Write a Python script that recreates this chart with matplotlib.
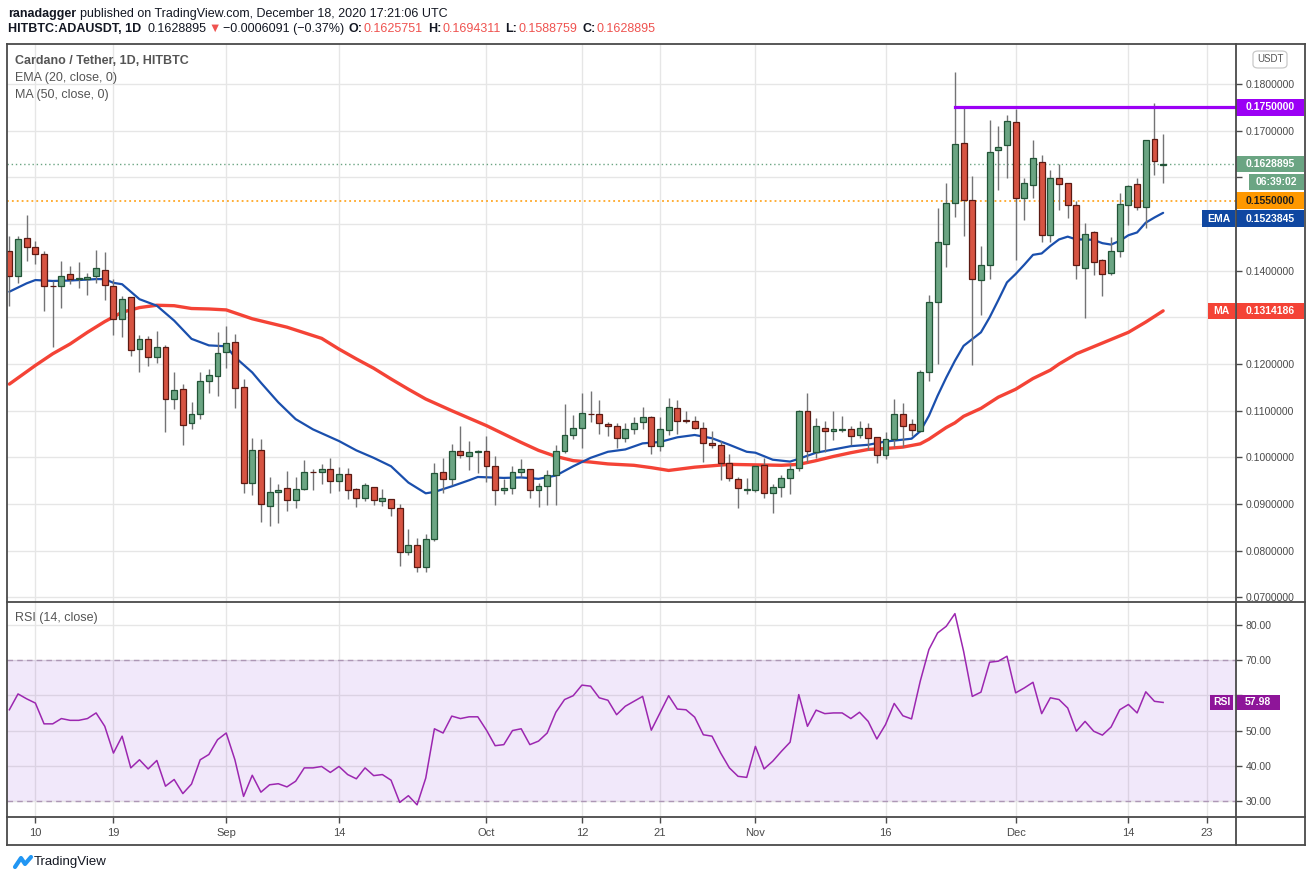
import matplotlib
matplotlib.use("Agg")
import matplotlib.pyplot as plt
import matplotlib.transforms as mtransforms
from matplotlib.patches import Rectangle, FancyBboxPatch
from matplotlib.lines import Line2D
import numpy as np
import pandas as pd

# ---- data (ADA/USDT daily, HitBTC) ----
start = pd.Timestamp("2020-08-07")
dates = pd.date_range(start, periods=134, freq="D")

opens = [0.1442, 0.1389, 0.1470, 0.1451, 0.1436, 0.1368, 0.1367, 0.1394, 0.1382, 0.1383,
         0.1389, 0.1402, 0.1368, 0.1296, 0.1343, 0.1232, 0.1253, 0.1215, 0.1236, 0.1126,
         0.1147, 0.1074, 0.1094, 0.1164, 0.1175, 0.1226, 0.1247, 0.1150, 0.0946, 0.1016,
         0.0896, 0.0926, 0.0935, 0.0909, 0.0933, 0.0969, 0.0968, 0.0976, 0.0950, 0.0965,
         0.0933, 0.0913, 0.0937, 0.0907, 0.0911, 0.0892, 0.0797, 0.0812, 0.0765, 0.0825,
         0.0968, 0.0953, 0.1013, 0.1002, 0.1011, 0.1013, 0.0981, 0.0930, 0.0934, 0.0968,
         0.0975, 0.0930, 0.0938, 0.0962, 0.1013, 0.1047, 0.1064, 0.1094, 0.1094, 0.1071,
         0.1067, 0.1041, 0.1060, 0.1075, 0.1086, 0.1024, 0.1058, 0.1105, 0.1081, 0.1079,
         0.1064, 0.1030, 0.1026, 0.0988, 0.0953, 0.0930, 0.0930, 0.0983, 0.0923, 0.0936,
         0.0956, 0.0977, 0.1100, 0.1011, 0.1064, 0.1056, 0.1058, 0.1060, 0.1047, 0.1062,
         0.1043, 0.1005, 0.1039, 0.1094, 0.1071, 0.1056, 0.1182, 0.1334, 0.1458, 0.1546,
         0.1674, 0.1551, 0.1381, 0.1413, 0.1659, 0.1670, 0.1719, 0.1556, 0.1584, 0.1633,
         0.1477, 0.1599, 0.1588, 0.1541, 0.1405, 0.1482, 0.1422, 0.1396, 0.1443, 0.1541,
         0.1586, 0.1537, 0.1682, 0.1626]
highs = [0.1474, 0.1474, 0.1520, 0.1464, 0.1443, 0.1378, 0.1420, 0.1411, 0.1418, 0.1396,
         0.1445, 0.1440, 0.1382, 0.1345, 0.1344, 0.1263, 0.1261, 0.1271, 0.1240, 0.1184,
         0.1157, 0.1118, 0.1182, 0.1189, 0.1269, 0.1282, 0.1265, 0.1169, 0.1041, 0.1039,
         0.0959, 0.0943, 0.0970, 0.0957, 0.0994, 0.0976, 0.0985, 0.0998, 0.0979, 0.0978,
         0.0934, 0.0946, 0.0937, 0.0933, 0.0911, 0.0901, 0.0847, 0.0827, 0.0836, 0.0987,
         0.0999, 0.1029, 0.1067, 0.1035, 0.1016, 0.1046, 0.1002, 0.0954, 0.0981, 0.0997,
         0.0975, 0.0946, 0.0974, 0.1027, 0.1114, 0.1091, 0.1138, 0.1142, 0.1123, 0.1075,
         0.1074, 0.1073, 0.1086, 0.1109, 0.1088, 0.1086, 0.1127, 0.1123, 0.1099, 0.1088,
         0.1075, 0.1056, 0.1035, 0.1007, 0.0958, 0.0956, 0.0983, 0.0998, 0.0943, 0.0962,
         0.0985, 0.1101, 0.1138, 0.1084, 0.1079, 0.1100, 0.1088, 0.1067, 0.1079, 0.1073,
         0.1043, 0.1054, 0.1125, 0.1116, 0.1082, 0.1188, 0.1348, 0.1535, 0.1589, 0.1826,
         0.1749, 0.1604, 0.1452, 0.1724, 0.1711, 0.1734, 0.1747, 0.1598, 0.1681, 0.1647,
         0.1616, 0.1628, 0.1588, 0.1549, 0.1503, 0.1486, 0.1426, 0.1473, 0.1567, 0.1584,
         0.1599, 0.1681, 0.1759, 0.1694]
lows = [0.1325, 0.1374, 0.1421, 0.1414, 0.1314, 0.1236, 0.1321, 0.1371, 0.1363, 0.1348,
        0.1374, 0.1338, 0.1263, 0.1259, 0.1217, 0.1183, 0.1195, 0.1202, 0.1055, 0.1104,
        0.1026, 0.1061, 0.1082, 0.1138, 0.1131, 0.1191, 0.1106, 0.0923, 0.0919, 0.0862,
        0.0854, 0.0859, 0.0885, 0.0891, 0.0930, 0.0931, 0.0943, 0.0924, 0.0928, 0.0910,
        0.0894, 0.0906, 0.0897, 0.0896, 0.0875, 0.0768, 0.0790, 0.0754, 0.0754, 0.0820,
        0.0923, 0.0941, 0.0998, 0.0974, 0.0967, 0.0948, 0.0897, 0.0921, 0.0921, 0.0959,
        0.0912, 0.0893, 0.0897, 0.0899, 0.1010, 0.1040, 0.1021, 0.1075, 0.1051, 0.1045,
        0.1021, 0.1032, 0.1051, 0.1060, 0.1007, 0.1013, 0.1049, 0.1051, 0.1073, 0.1060,
        0.0990, 0.1020, 0.0951, 0.0949, 0.0891, 0.0921, 0.0925, 0.0914, 0.0880, 0.0916,
        0.0921, 0.0970, 0.0990, 0.0998, 0.1011, 0.1037, 0.1054, 0.1026, 0.1041, 0.1015,
        0.0988, 0.0996, 0.1022, 0.1022, 0.1045, 0.1055, 0.1163, 0.1201, 0.1408, 0.1515,
        0.1474, 0.1199, 0.1306, 0.1383, 0.1574, 0.1599, 0.1424, 0.1509, 0.1556, 0.1462,
        0.1462, 0.1531, 0.1513, 0.1383, 0.1299, 0.1391, 0.1346, 0.1391, 0.1430, 0.1497,
        0.1531, 0.1492, 0.1605, 0.1589]
closes = [0.1389, 0.1468, 0.1451, 0.1436, 0.1368, 0.1367, 0.1389, 0.1383, 0.1384, 0.1387,
          0.1406, 0.1370, 0.1296, 0.1340, 0.1230, 0.1253, 0.1215, 0.1236, 0.1126, 0.1145,
          0.1070, 0.1094, 0.1164, 0.1177, 0.1223, 0.1245, 0.1148, 0.0946, 0.1016, 0.0900,
          0.0926, 0.0930, 0.0909, 0.0933, 0.0969, 0.0968, 0.0976, 0.0950, 0.0965, 0.0930,
          0.0913, 0.0941, 0.0909, 0.0913, 0.0892, 0.0797, 0.0812, 0.0765, 0.0825, 0.0967,
          0.0953, 0.1013, 0.1005, 0.1011, 0.1013, 0.0981, 0.0930, 0.0934, 0.0968, 0.0975,
          0.0930, 0.0938, 0.0962, 0.1013, 0.1049, 0.1064, 0.1096, 0.1092, 0.1073, 0.1067,
          0.1041, 0.1060, 0.1073, 0.1086, 0.1024, 0.1060, 0.1107, 0.1079, 0.1079, 0.1064,
          0.1030, 0.1026, 0.0988, 0.0956, 0.0934, 0.0931, 0.0981, 0.0923, 0.0936, 0.0956,
          0.0975, 0.1100, 0.1013, 0.1067, 0.1056, 0.1060, 0.1060, 0.1045, 0.1064, 0.1041,
          0.1005, 0.1039, 0.1094, 0.1067, 0.1059, 0.1184, 0.1332, 0.1462, 0.1546, 0.1672,
          0.1551, 0.1383, 0.1413, 0.1655, 0.1665, 0.1721, 0.1556, 0.1588, 0.1642, 0.1477,
          0.1599, 0.1586, 0.1541, 0.1413, 0.1479, 0.1418, 0.1394, 0.1443, 0.1544, 0.1582,
          0.1537, 0.1680, 0.1635, 0.1629]

ema_days = ["08-07", "08-09", "08-10", "08-12", "08-14", "08-17", "08-18", "08-19", "08-20",
            "08-22", "08-24", "08-26", "08-28", "08-30", "09-01", "09-02", "09-04", "09-05",
            "09-07", "09-09", "09-11", "09-14", "09-16", "09-18", "09-20", "09-22", "09-24",
            "09-25", "09-27", "09-29", "09-30", "10-03", "10-05", "10-07", "10-09", "10-11",
            "10-13", "10-15", "10-17", "10-19", "10-21", "10-23", "10-25", "10-27", "10-29",
            "10-31", "11-01", "11-03", "11-05", "11-06", "11-08", "11-10", "11-12", "11-14",
            "11-16", "11-18", "11-19", "11-20", "11-21", "11-22", "11-23", "11-24", "11-25",
            "11-27", "11-28", "11-29", "11-30", "12-01", "12-02", "12-03", "12-04", "12-05",
            "12-06", "12-07", "12-08", "12-09", "12-10", "12-11", "12-12", "12-13", "12-14",
            "12-15", "12-16", "12-17", "12-18"]
ema_vals = [0.1355, 0.1373, 0.1380, 0.1378, 0.1379, 0.1382, 0.1382, 0.1374, 0.1371,
            0.1339, 0.1325, 0.1293, 0.1254, 0.1240, 0.1238, 0.1215, 0.1182, 0.1160,
            0.1118, 0.1082, 0.1060, 0.1035, 0.1015, 0.0999, 0.0981, 0.0946, 0.0923,
            0.0926, 0.0938, 0.0951, 0.0958, 0.0956, 0.0957, 0.0954, 0.0961, 0.0981,
            0.0999, 0.1012, 0.1017, 0.1030, 0.1033, 0.1043, 0.1048, 0.1041, 0.1027,
            0.1012, 0.1010, 0.0995, 0.0991, 0.0997, 0.1010, 0.1017, 0.1024, 0.1027,
            0.1034, 0.1038, 0.1040, 0.1056, 0.1089, 0.1132, 0.1171, 0.1207, 0.1239,
            0.1268, 0.1300, 0.1337, 0.1375, 0.1393, 0.1413, 0.1434, 0.1437, 0.1453,
            0.1467, 0.1473, 0.1467, 0.1467, 0.1466, 0.1459, 0.1456, 0.1464, 0.1476,
            0.1482, 0.1503, 0.1514, 0.1524]

ma_days = ["08-07", "08-10", "08-12", "08-14", "08-16", "08-18", "08-20", "08-22", "08-24",
           "08-26", "08-28", "08-30", "09-01", "09-04", "09-08", "09-12", "09-14", "09-16",
           "09-18", "09-20", "09-22", "09-24", "09-27", "09-29", "10-01", "10-03", "10-05",
           "10-07", "10-09", "10-11", "10-13", "10-15", "10-18", "10-20", "10-22", "10-25",
           "10-29", "11-01", "11-04", "11-06", "11-08", "11-10", "11-12", "11-14", "11-16",
           "11-18", "11-20", "11-21", "11-23", "11-24", "11-25", "11-27", "11-29", "12-01",
           "12-03", "12-05", "12-06", "12-08", "12-11", "12-14", "12-15", "12-16", "12-17",
           "12-18"]
ma_vals = [0.1157, 0.1197, 0.1222, 0.1243, 0.1268, 0.1291, 0.1311, 0.1321, 0.1326,
           0.1325, 0.1319, 0.1318, 0.1316, 0.1297, 0.1279, 0.1255, 0.1232, 0.1211,
           0.1191, 0.1168, 0.1146, 0.1125, 0.1100, 0.1084, 0.1068, 0.1050, 0.1032,
           0.1015, 0.1002, 0.0993, 0.0990, 0.0986, 0.0983, 0.0978, 0.0972, 0.0979,
           0.0985, 0.0984, 0.0983, 0.0985, 0.0993, 0.1002, 0.1010, 0.1017, 0.1019,
           0.1022, 0.1029, 0.1039, 0.1064, 0.1074, 0.1088, 0.1105, 0.1129, 0.1146,
           0.1169, 0.1187, 0.1200, 0.1222, 0.1245, 0.1268, 0.1279, 0.1290, 0.1302,
           0.1314]

rsi_vals = [55.9, 60.4, 59.0, 57.8, 51.9, 51.9, 53.4, 52.9, 52.9, 53.4, 55.0, 51.2, 43.6,
            48.4, 39.4, 41.7, 39.1, 41.5, 34.2, 36.1, 32.1, 34.8, 41.7, 43.2, 47.4,
            49.3, 41.7, 31.3, 37.3, 32.5, 34.6, 34.9, 34.0, 35.6, 39.4, 39.4, 39.8, 38.1,
            39.8, 37.5, 36.3, 39.4, 37.2, 37.5, 35.9, 29.6, 31.5, 28.9, 36.5, 50.5, 49.3,
            54.1, 53.4, 53.9, 53.9,
            50.1, 45.7, 46.0, 50.0, 50.5, 46.0, 47.0, 49.3, 55.2, 58.8, 59.9, 62.9, 62.6,
            59.3, 58.6, 54.5, 56.9, 58.3, 59.7, 50.1, 55.0, 59.9, 56.1, 55.9, 53.8, 48.8,
            48.4, 43.6, 39.4, 37.0, 36.7,
            45.5, 39.1, 41.3, 44.1, 46.7, 60.2, 51.2, 55.8, 54.8, 55.0, 55.0, 53.4, 55.2,
            52.6, 47.6, 51.7, 57.7, 54.2, 53.3, 64.0, 73.0, 77.7, 79.6, 83.2, 72.5, 59.7,
            60.9, 69.4, 69.7, 71.1,
            60.7, 62.1, 63.7, 54.8, 59.3, 58.8, 56.4, 49.8, 52.6, 49.8, 48.7, 51.0, 55.9,
            57.4, 55.0, 61.0, 58.3, 57.98]

tick_dates = ["2020-08-10", "2020-08-19", "2020-09-01", "2020-09-14", "2020-10-01",
              "2020-10-12", "2020-10-21", "2020-11-01", "2020-11-16", "2020-12-01",
              "2020-12-14", "2020-12-23"]
tick_labels = ["10", "19", "Sep", "14", "Oct", "12", "21", "Nov", "16", "Dec", "14", "23"]

price_ticks = [0.07, 0.08, 0.09, 0.10, 0.11, 0.12, 0.13, 0.14, 0.15, 0.16, 0.17, 0.18]
hidden_price_ticks = [0.13, 0.15, 0.16]   # covered by the value tags in the original
rsi_ticks = [30, 40, 50, 60, 70, 80]
hidden_rsi_ticks = [60]

resistance = 0.175
resistance_from = "2020-11-24"
support = 0.155
last_price = 0.1628895
ema_last = 0.1523845
ma_last = 0.1314186
rsi_last = 57.98
countdown = "06:39:02"

# ---- styling ----
UP, UP_EDGE = "#6ba583", "#225437"
DN, DN_EDGE = "#d75442", "#5b1a13"
WICK = "#737375"
EMA_C, MA_C = "#1a4fad", "#f44336"
PURPLE, ORANGE = "#9b00f5", "#ff9800"
RSI_C = "#9c27b0"
GRID = "#e6e6e6"
FRAME = "#4a4a4a"
TXT = "#131722"
LBL = "#4a4a4a"

plt.rcParams["font.family"] = ["Liberation Sans", "DejaVu Sans"]

W, H = 1311, 881
fig = plt.figure(figsize=(W / 100, H / 100), dpi=100)


def fx(px):
    return px / W


def fy(py):
    return 1 - py / H


L, R = 7, 1236
ax = fig.add_axes([fx(L), fy(602), fx(R) - fx(L), (602 - 44) / H])
ax_rsi = fig.add_axes([fx(L), fy(817), fx(R) - fx(L), (817 - 602) / H], sharex=ax)

YMIN, YMAX = 0.06901, 0.18858
RMIN, RMAX = 25.45, 86.5
XMIN, XMAX = -0.27, 141.4


def day(s):
    return (pd.Timestamp(s) - start).days


def day_md(s):
    return day("2020-" + s)


def skip_formatter(fmt, hidden):
    def f(v, pos):
        if any(abs(v - h) < 1e-6 for h in hidden):
            return ""
        return fmt % v
    return plt.FuncFormatter(f)


x = np.array([(d - start).days for d in dates])
o, hi, lo, c = map(np.array, (opens, highs, lows, closes))
up = c >= o

# candles
ax.vlines(x, lo, hi, color=WICK, lw=1, zorder=3)
body_lo = np.minimum(o, c)
body_h = np.maximum(np.abs(c - o), 0.00012)
ax.bar(x[up], body_h[up], bottom=body_lo[up], width=0.68, color=UP,
       edgecolor=UP_EDGE, lw=0.9, zorder=4)
ax.bar(x[~up], body_h[~up], bottom=body_lo[~up], width=0.68, color=DN,
       edgecolor=DN_EDGE, lw=0.9, zorder=4)

# moving averages
ax.plot([day_md(d) for d in ema_days], ema_vals, color=EMA_C, lw=1.6, zorder=2.6,
        solid_capstyle="round")
ax.plot([day_md(d) for d in ma_days], ma_vals, color=MA_C, lw=2.4, zorder=2.5,
        solid_capstyle="round")

# horizontal levels
ax.plot([day(resistance_from), XMAX], [resistance, resistance], color=PURPLE, lw=2.3, zorder=5)
ax.axhline(last_price, color=UP, ls=(0, (1, 2)), lw=1, zorder=2)
ax.axhline(support, color=ORANGE, ls=(0, (1.2, 2)), lw=1.1, zorder=2)

ax.set_xlim(XMIN, XMAX)
ax.set_ylim(YMIN, YMAX)
ax.set_yticks(price_ticks)
ax.yaxis.set_major_formatter(skip_formatter("%.7f", hidden_price_ticks))
ax.yaxis.tick_right()
ax.tick_params(axis="y", length=4, width=1, color=FRAME, labelcolor=LBL,
               labelsize=7.5, pad=3)
ax.tick_params(axis="x", length=0, labelbottom=False)
ax.set_axisbelow(True)
ax.grid(True, color=GRID, lw=1)

# RSI panel
ax_rsi.axhspan(30, 70, color="#7e22d0", alpha=0.1, lw=0, zorder=1)
for lvl in (30, 70):
    ax_rsi.axhline(lvl, color="#ad97b5", ls=(0, (4, 3)), lw=1, zorder=2)
ax_rsi.plot(x, rsi_vals, color=RSI_C, lw=1.1, zorder=3)
ax_rsi.set_ylim(RMIN, RMAX)
ax_rsi.set_yticks(rsi_ticks)
ax_rsi.yaxis.set_major_formatter(skip_formatter("%.2f", hidden_rsi_ticks))
ax_rsi.yaxis.tick_right()
ax_rsi.tick_params(axis="y", length=4, width=1, color=FRAME, labelcolor=LBL,
                   labelsize=7.5, pad=3)
ax_rsi.set_xticks([day(d) for d in tick_dates])
ax_rsi.set_xticklabels(tick_labels)
ax_rsi.tick_params(axis="x", length=4, width=1, color=FRAME, labelcolor=LBL,
                   labelsize=8, pad=4)
ax_rsi.set_axisbelow(True)
ax_rsi.grid(True, color=GRID, lw=1)

for a in (ax, ax_rsi):
    for sp in a.spines.values():
        sp.set_visible(False)


# price-scale tags
def tag(axis, y, text, fc, tc, per_px, shift=0, x0=R, x1=1304, h=16.5, size=7.5):
    span = R - L
    tr = mtransforms.blended_transform_factory(axis.transAxes, axis.transData)
    tr = mtransforms.offset_copy(tr, fig=fig, x=0, y=-shift, units="dots")
    hh = h / per_px
    ax0 = (x0 - L) / span
    aw = (x1 - x0) / span
    axis.add_patch(Rectangle((ax0, y - hh / 2), aw, hh, transform=tr, fc=fc, ec="none",
                             clip_on=False, zorder=8))
    axis.text(ax0 + aw / 2, y, text, transform=tr, ha="center", va="center",
              color=tc, fontsize=size, fontweight="bold", clip_on=False, zorder=9)


ppx = (602 - 44) / (YMAX - YMIN)
rpx = (817 - 602) / (RMAX - RMIN)
tag(ax, resistance, "%.7f" % resistance, PURPLE, "white", ppx)
tag(ax, last_price, "%.7f" % last_price, UP, "white", ppx)
tag(ax, last_price, countdown, UP, "white", ppx, shift=18, x0=1249)
tag(ax, support, "%.7f" % support, ORANGE, "#1e1e1e", ppx)
tag(ax, ema_last, "%.7f" % ema_last, "#0f47a1", "white", ppx, shift=5.6)
tag(ax, ema_last, "EMA", "#0f47a1", "white", ppx, shift=5.6, x0=1202, x1=1235)
tag(ax, ma_last, "%.7f" % ma_last, MA_C, "white", ppx)
tag(ax, ma_last, "MA", MA_C, "white", ppx, x0=1208, x1=1235)
tag(ax_rsi, rsi_last, "%.2f" % rsi_last, "#8e1599", "white", rpx, x0=1236, x1=1280, h=15.5)
tag(ax_rsi, rsi_last, "RSI", "#8e1599", "white", rpx, x0=1210, x1=1233, h=15.5)

# panel legends
ax.text(8 / (R - L), 1 - (61 - 44) / (602 - 44), "Cardano / Tether, 1D, HITBTC",
        transform=ax.transAxes, color="#555555", fontsize=9, fontweight="bold", va="center")
ax.text(8 / (R - L), 1 - (78 - 44) / (602 - 44), "EMA (20, close, 0)",
        transform=ax.transAxes, color="#555555", fontsize=9, va="center")
ax.text(8 / (R - L), 1 - (95 - 44) / (602 - 44), "MA (50, close, 0)",
        transform=ax.transAxes, color="#555555", fontsize=9, va="center")
ax_rsi.text(8 / (R - L), 1 - (618 - 602) / (817 - 602), "RSI (14, close)",
            transform=ax_rsi.transAxes, color="#555555", fontsize=9, va="center")


# frame
def fline(x0, y0, x1, y1):
    fig.add_artist(Line2D([fx(x0), fx(x1)], [fy(y0), fy(y1)], color=FRAME, lw=1.3))


fline(7, 44, 1305, 44)
fline(7, 845, 1305, 845)
fline(7, 44, 7, 845)
fline(1305, 44, 1305, 845)
fline(7, 602, 1305, 602)
fline(7, 817, 1305, 817)
fline(1236, 44, 1236, 845)

# currency badge
fig.add_artist(FancyBboxPatch((fx(1253), fy(68)), fx(1287) - fx(1253), (68 - 51) / H,
                              boxstyle="round,pad=0,rounding_size=0.004",
                              fc="white", ec="#c9c9c9", lw=0.9, transform=fig.transFigure))
fig.text(fx(1270), fy(59.5), "USDT", ha="center", va="center", fontsize=7, color="#555555")

# header
renderer = fig.canvas.get_renderer()


def run_text(parts, x_px, y_px, size=9):
    xx = x_px
    for s, color, weight, gap in parts:
        t = fig.text(fx(xx), fy(y_px), s, color=color, fontsize=size, fontweight=weight,
                     ha="left", va="center")
        xx = t.get_window_extent(renderer).x1 + gap


RED = "#ef5350"
run_text([("ranadagger", TXT, "bold", 4),
          ("published on TradingView.com, December 18, 2020 17:21:06 UTC", TXT, "normal", 0)],
         8, 14)
run_text([("HITBTC:ADAUSDT, 1D", TXT, "bold", 6),
          ("%.7f" % last_price, TXT, "normal", 2),
          ("\u25bc", RED, "normal", 2),
          ("\u22120.0006091 (\u22120.37%)", TXT, "normal", 5),
          ("O:", TXT, "bold", 1), ("0.1625751", RED, "normal", 5),
          ("H:", TXT, "bold", 1), ("0.1694311", RED, "normal", 5),
          ("L:", TXT, "bold", 1), ("0.1588759", RED, "normal", 5),
          ("C:", TXT, "bold", 1), ("%.7f" % last_price, RED, "normal", 0)],
         8, 29)

# footer logo
fig.add_artist(Line2D([fx(15), fx(21), fx(25), fx(31)], [fy(867), fy(858), fy(864), fy(857)],
                      color="#2196f3", lw=3, solid_capstyle="round", solid_joinstyle="round"))
fig.text(fx(34), fy(862), "TradingView", fontsize=9.5, color=TXT, ha="left", va="center")

fig.savefig("out.png", dpi=100)
